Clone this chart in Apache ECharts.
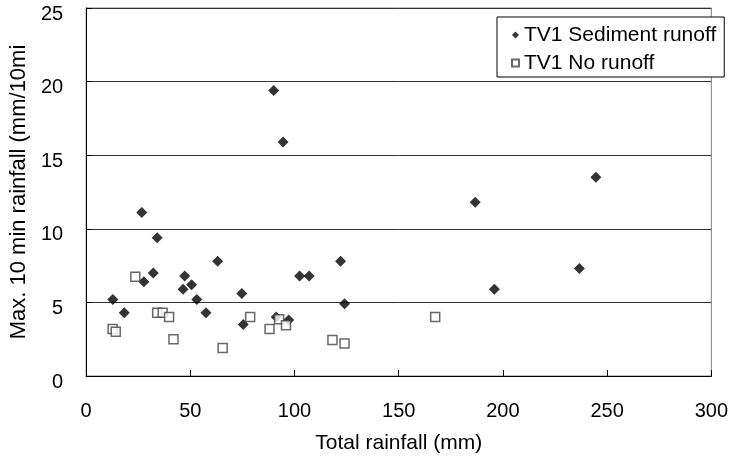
<!DOCTYPE html>
<html>
<head>
<meta charset="utf-8">
<script src="https://cdn.jsdelivr.net/npm/echarts@6/dist/echarts.min.js"></script>
<style>html,body{margin:0;padding:0;background:#fff}#c{width:731px;height:460px}</style>
</head>
<body>
<div id="c"></div>
<script>
const sedimentX = [12.8, 18.3, 26.7, 27.7, 32.2, 34.1, 47.3, 46.5, 50.6, 53.1, 57.5, 63.1, 74.7, 75.4, 90.0, 94.5, 91.2, 97.2, 102.4, 107.0, 122.1, 124.0, 186.7, 195.9, 236.7, 244.6];
const sedimentY = [5.2, 4.3, 11.1, 6.4, 7.0, 9.4, 6.8, 5.9, 6.2, 5.2, 4.3, 7.8, 5.6, 3.5, 19.4, 15.9, 4.0, 3.8, 6.8, 6.8, 7.8, 4.9, 11.8, 5.9, 7.3, 13.5];
const noRunoffX = [12.7, 14.2, 23.6, 34.1, 36.7, 39.8, 41.9, 65.5, 78.7, 88.0, 92.6, 95.9, 118.2, 124.0, 167.5];
const noRunoffY = [3.2, 3.0, 6.75, 4.3, 4.3, 4.0, 2.5, 1.9, 4.0, 3.2, 3.85, 3.45, 2.45, 2.2, 4.0];
const seriesNames = ['TV1 Sediment runoff', 'TV1 No runoff'];
const xTitle = 'Total rainfall (mm)';
const yTitle = 'Max. 10 min rainfall (mm/10min)';

const pairs = (xs, ys) => xs.map((x, i) => [x, ys[i]]);
const FONT = "'Liberation Sans', Arial, sans-serif";

const chart = echarts.init(document.getElementById('c'), null, {renderer: 'canvas'});
chart.setOption({
  animation: false,
  backgroundColor: '#fff',
  grid: {left: 83, right: 15, top: 8, bottom: 84, show: true, borderColor: '#808080', borderWidth: 1, backgroundColor: 'transparent'},
  xAxis: {
    type: 'value', min: 0, max: 300, interval: 50,
    name: xTitle, nameLocation: 'middle', nameGap: 57,
    nameTextStyle: {fontFamily: FONT, fontSize: 21, color: '#000'},
    axisLine: {show: true, onZero: false, lineStyle: {color: '#000', width: 1}},
    axisTick: {show: true, inside: true, length: 6, lineStyle: {color: '#000'}},
    axisLabel: {fontFamily: FONT, fontSize: 20, color: '#000', margin: 25},
    splitLine: {show: false}
  },
  yAxis: {
    type: 'value', min: 0, max: 25, interval: 5,
    name: yTitle, nameLocation: 'middle', nameGap: 46, nameRotate: 90,
    nameTruncate: {maxWidth: 302, ellipsis: ''},
    nameTextStyle: {fontFamily: FONT, fontSize: 22, color: '#000'},
    axisLine: {show: true, lineStyle: {color: '#000', width: 1}},
    axisTick: {show: true, inside: true, length: 6, lineStyle: {color: '#000'}},
    axisLabel: {fontFamily: FONT, fontSize: 20, color: '#000', margin: 23, verticalAlign: 'top', lineHeight: 12},
    splitLine: {show: true, lineStyle: {color: '#333', width: 1}}
  },
  legend: {
    orient: 'vertical', left: 497, top: 17,
    padding: [5, 8, 1, 14], itemGap: 2,
    itemWidth: 7, itemHeight: 7,
    backgroundColor: '#fff', borderColor: '#000', borderWidth: 1, borderRadius: 0,
    textStyle: {fontFamily: FONT, fontSize: 21, color: '#000', lineHeight: 18, padding: [8, 0, 0, 0]},
    data: seriesNames
  },
  series: [
    {
      name: seriesNames[0], type: 'scatter', symbol: 'diamond', symbolSize: [11, 11],
      itemStyle: {color: '#000'},
      data: pairs(sedimentX, sedimentY)
    },
    {
      name: seriesNames[1], type: 'scatter', symbol: 'rect', symbolSize: [9, 9],
      itemStyle: {color: '#fff', borderColor: '#444', borderWidth: 1.5},
      data: pairs(noRunoffX, noRunoffY)
    }
  ]
});
</script>
</body>
</html>
